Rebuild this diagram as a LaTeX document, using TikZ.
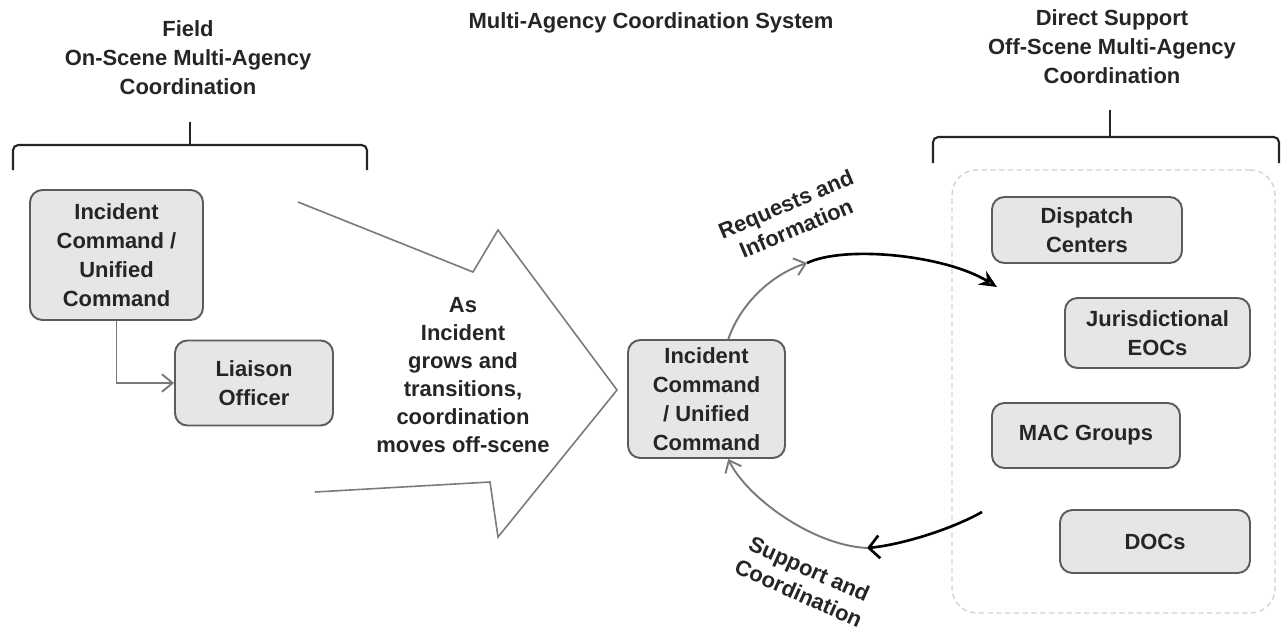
\documentclass[tikz,border=0pt]{standalone}
\usepackage{fontspec}
\setmainfont{Liberation Sans}
\usepackage{tikz}
\usetikzlibrary{arrows.meta}

\definecolor{boxfill}{HTML}{E6E6E6}
\definecolor{boxline}{HTML}{5C5C5C}
\definecolor{inkgray}{HTML}{252525}
\definecolor{arcgray}{HTML}{7A7A7A}

\tikzset{
    cmdbox/.style={draw=boxline,
        line width=1.1pt,
        rounded corners=7pt,
        fill=boxfill,
        align=center,
        inner sep=2pt,
        text=inkgray,
        font=\bfseries\fontsize{12.5}{16.5}\selectfont},
    headline/.style={align=center,
        text=inkgray,
        font=\bfseries\fontsize{12.5}{16.5}\selectfont},
    bracketline/.style={draw=inkgray, line width=1.2pt, rounded corners=3pt},
    grayflow/.style={draw=arcgray, line width=1.1pt,
        -{Straight Barb[length=6pt,width=10pt]}},
    blackflow/.style={draw=black, line width=1.5pt}
}

\begin{document}
\begin{tikzpicture}[x=0.02cm, y=-0.02cm]

    \useasboundingbox (0,0) rectangle (1281,632);

    % Headings
    \node[headline] (fieldhead) at (188,58)
        {Field\\On-Scene Multi-Agency\\Coordination};
    \node[headline] (machead) at (651,23)
        {Multi-Agency Coordination System};
    \node[headline] (supporthead) at (1112,47)
        {Direct Support\\Off-Scene Multi-Agency\\Coordination};

    % Brackets
    \draw[bracketline] (13,170) -- (13,145) -- (367,145) -- (367,170);
    \draw[bracketline] (190,145) -- (190,122);
    \draw[bracketline] (933,163) -- (933,137) -- (1279,137) -- (1279,163);
    \draw[bracketline] (1110,137) -- (1110,110);

    % Big arrow
    \draw[draw=arcgray, line width=0.9pt, fill=white]
        (298,202) -- (473,272) -- (498,230) -- (617,390)
        -- (498,537) -- (490,482) -- (315,492);

    \node[headline,
        font=\bfseries\fontsize{12.5}{16}\selectfont
    ] (growtext) at (463,375)
        {As\\Incident\\grows and\\transitions,\\coordination\\moves off-scene};

    % On-scene boxes
    \node[cmdbox,
        minimum width=3.46cm,
        minimum height=2.6cm
    ] (icfield) at (116.5,255) {Incident\\Command /\\Unified\\Command};

    \node[cmdbox,
        minimum width=3.16cm,
        minimum height=1.7cm
    ] (liaison) at (254,383) {Liaison\\Officer};

    \draw[grayflow] (icfield.south) |- (liaison.west);

    % Off-scene group
    \node[draw=gray!35,
        dash pattern=on 3pt off 2pt,
        line width=0.8pt,
        rounded corners=14pt,
        minimum width=6.46cm,
        minimum height=8.86cm
    ] (offscene) at (1113.5,391.5) {};

    \node[cmdbox,
        minimum width=3.8cm,
        minimum height=1.32cm
    ] (dispatch) at (1087,230) {Dispatch\\Centers};

    \node[cmdbox,
        minimum width=3.7cm,
        minimum height=1.4cm
    ] (juris) at (1157.5,333) {Jurisdictional\\EOCs};

    \node[cmdbox,
        minimum width=3.76cm,
        minimum height=1.3cm
    ] (macgroups) at (1086,435.5) {MAC Groups};

    \node[cmdbox,
        minimum width=3.8cm,
        minimum height=1.26cm
    ] (docs) at (1155,541.5) {DOCs};

    % Command in the middle
    \node[cmdbox,
        minimum width=3.14cm,
        minimum height=2.36cm
    ] (iccenter) at (706.5,399) {Incident\\Command\\/ Unified\\Command};

    % Cycle
    \coordinate (reqmid) at (807,263);
    \coordinate (reqend) at (997,287);
    \coordinate (supstart) at (982,512);
    \coordinate (supmid) at (867,548);

    \draw[grayflow] (iccenter.70) .. controls (740,305) and (770,275) .. (reqmid);
    \draw[blackflow, -{Stealth[length=10pt,width=9pt,fill=arcgray]}]
        (reqmid) .. controls (845,245) and (945,255) .. (reqend);
    \draw[blackflow, -{Straight Barb[length=6pt,width=13pt]}]
        (supstart) .. controls (950,530) and (900,545) .. (supmid);
    \draw[grayflow] (supmid) .. controls (810,545) and (745,495) .. (iccenter.-70);

    \node[headline, rotate=23,
        font=\bfseries\fontsize{12.5}{15}\selectfont
    ] (reqlabel) at (791,216) {Requests and\\Information};
    \node[headline, rotate=-24,
        font=\bfseries\fontsize{12.5}{15}\selectfont
    ] (suplabel) at (804,581) {Support and\\Coordination};

\end{tikzpicture}
\end{document}
